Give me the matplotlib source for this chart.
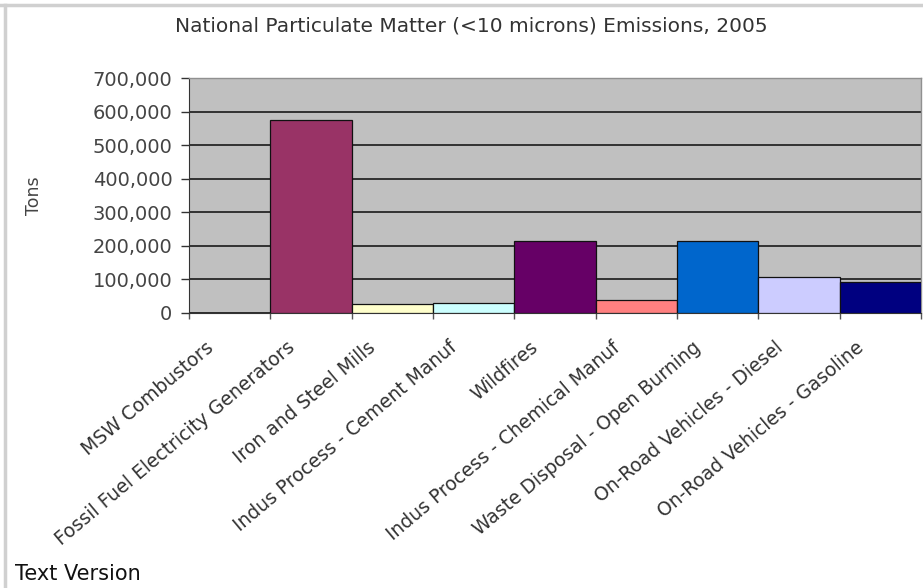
import matplotlib
matplotlib.use('Agg')
import matplotlib.pyplot as plt
from matplotlib.lines import Line2D
from matplotlib.ticker import FuncFormatter
import numpy as np

# PM10 emissions by source category, tons (2005)
sources = [
    'MSW Combustors',
    'Fossil Fuel Electricity Generators',
    'Iron and Steel Mills',
    'Indus Process - Cement Manuf',
    'Wildfires',
    'Indus Process - Chemical Manuf',
    'Waste Disposal - Open Burning',
    'On-Road Vehicles - Diesel',
    'On-Road Vehicles - Gasoline',
]
tons = [1000, 574000, 28000, 30000, 213000, 38000, 213000, 106000, 92000]
bar_colors = ['#9999FF', '#993366', '#FFFFCC', '#CCFFFF', '#660066',
              '#FF8080', '#0066CC', '#CCCCFF', '#000080']
y_ticks = [0, 100000, 200000, 300000, 400000, 500000, 600000, 700000]

W, H = 923, 588
fig = plt.figure(figsize=(W / 100, H / 100), dpi=100)
fig.patch.set_facecolor('white')

ax = fig.add_axes([189 / W, 1 - 313 / H, (921 - 189) / W, (313 - 78) / H])
ax.set_facecolor('#C0C0C0')

x = np.arange(len(sources))
ax.bar(x, tons, width=1.0, color=bar_colors, edgecolor='#111111',
       linewidth=0.9, zorder=3)

ax.set_xlim(-0.5, len(sources) - 0.5)
ax.set_ylim(0, 700000)
ax.set_yticks(y_ticks)
ax.yaxis.set_major_formatter(FuncFormatter(lambda v, p: f'{int(v):,}'))
ax.grid(axis='y', color='#1a1a1a', linewidth=1.2, zorder=1)
ax.tick_params(axis='y', direction='out', length=6, width=1.0,
               color='#333333', labelsize=14, labelcolor='#444444', pad=6)

# category ticks sit on the boundaries between bars
ax.set_xticks(np.arange(len(sources) + 1) - 0.5)
ax.set_xticklabels([])
ax.tick_params(axis='x', direction='out', length=4, width=1.0, color='#555555')
for i, name in enumerate(sources):
    ax.annotate(name, xy=(i, 0), xycoords='data', xytext=(-25, -25),
                textcoords='offset pixels', rotation=40, ha='right', va='top',
                rotation_mode='anchor', fontsize=13.5, color='#333333',
                annotation_clip=False)

for side in ['top', 'right']:
    ax.spines[side].set_color('#909090')
    ax.spines[side].set_linewidth(1.0)
ax.spines['left'].set_color('#333333')
ax.spines['bottom'].set_color('#333333')

fig.text(34 / W, 1 - 196 / H, 'Tons', rotation=90, ha='center', va='center',
         fontsize=12.5, color='#444444')
fig.text(471 / W, 1 - 26 / H, 'National Particulate Matter (<10 microns) Emissions, 2005',
         ha='center', va='center', fontsize=14.5, color='#333333')
fig.text(15 / W, 1 - 574 / H, 'Text Version', ha='left', va='center',
         fontsize=15, color='#111111')

# light frame along the top and left edges
fig.add_artist(Line2D([0, 1], [1 - 5 / H, 1 - 5 / H], color='#D0D0D0',
                      linewidth=2.5, transform=fig.transFigure))
fig.add_artist(Line2D([5 / W, 5 / W], [0, 1 - 5 / H], color='#D0D0D0',
                      linewidth=2.5, transform=fig.transFigure))

fig.savefig('out.png', dpi=100)
